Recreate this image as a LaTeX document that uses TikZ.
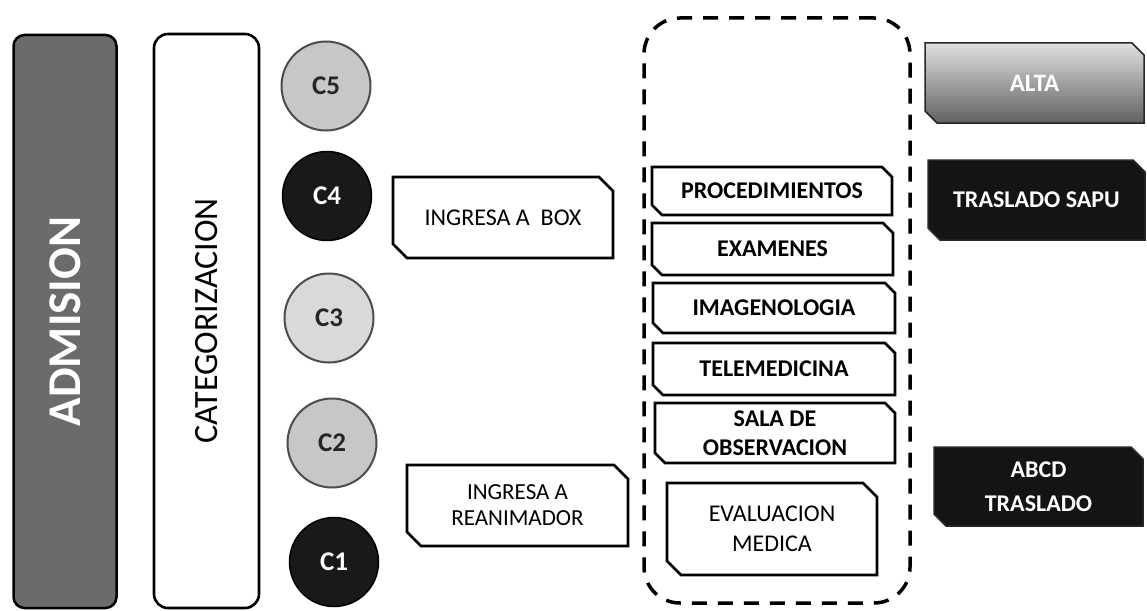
\documentclass[tikz,border=0pt]{standalone}
\usepackage{fontspec}
\setmainfont{Carlito}
\usetikzlibrary{shapes.misc}
\begin{document}
\begin{tikzpicture}[x=1pt,y=-1pt,
  snipbox/.style={chamfered rectangle,
    chamfered rectangle corners={north east,south west},
    chamfered rectangle sep=5pt,
    draw=black, line width=2.8pt, fill=white, align=center,
    inner sep=2pt, font=\fontsize{24}{29}\selectfont\bfseries},
  outcome/.style={snipbox, chamfered rectangle sep=6pt, draw=black!85,
    line width=1.5pt, text=white},
  catcircle/.style={circle, minimum size=#1, inner sep=0pt,
    font=\fontsize{27}{30}\selectfont\bfseries},
  lightcat/.style={catcircle=89pt, fill=black!22, draw=black!70, line width=2pt, text=black!85},
  darkcat/.style={catcircle=89pt, fill=black!90, draw=black, line width=1.5pt, text=white}
]
\useasboundingbox (0,0) rectangle (1147,610);

% admission bar and categorisation column
\node[rotate=90, minimum width=573pt, minimum height=103pt, rounded corners=11pt,
      fill=black!58, draw=black, line width=2.5pt, text=white,
      font=\fontsize{47}{50}\selectfont\bfseries] (adm) at (65,321.5) {ADMISION};
\node[rotate=90, minimum width=574pt, minimum height=105pt, rounded corners=14pt,
      draw=black, line width=2.6pt, fill=white,
      font=\fontsize{34}{38}\selectfont] (cat) at (206.5,321) {CATEGORIZACION};

% triage categories
\node[lightcat] (c5) at (326,86)  {C5};
\node[darkcat]  (c4) at (327,196) {C4};
\node[lightcat, fill=black!15] (c3) at (329,318) {C3};
\node[lightcat] (c2) at (332,443) {C2};
\node[darkcat]  (c1) at (334,562) {C1};

% entry points
\node[snipbox, chamfered rectangle sep=7pt, minimum width=220pt, minimum height=81pt,
      font=\fontsize{24}{29}\selectfont] (box) at (503,217.5) {INGRESA A\ \ BOX};
\node[snipbox, chamfered rectangle sep=7pt, minimum width=221pt, minimum height=81pt,
      font=\fontsize{23}{26}\selectfont] (rea) at (517.5,505.5) {INGRESA A\\REANIMADOR};

% care area
\node[draw=black, line width=3.5pt, dash pattern=on 15pt off 11pt,
      rounded corners=36pt, minimum width=266pt, minimum height=585pt] (area) at (777,310.5) {};
\node[snipbox, minimum width=240pt, minimum height=48pt] (proc) at (772,191) {PROCEDIMIENTOS};
\node[snipbox, minimum width=241pt, minimum height=52pt] (exam) at (772.5,249) {EXAMENES};
\node[snipbox, minimum width=242pt, minimum height=50pt] (imag) at (774,308) {IMAGENOLOGIA};
\node[snipbox, minimum width=242pt, minimum height=52pt] (tele) at (774,369) {TELEMEDICINA};
\node[snipbox, minimum width=240pt, minimum height=60pt,
      font=\fontsize{24}{29}\selectfont\bfseries] (sala) at (775,433) {SALA DE\\OBSERVACION};
\node[snipbox, chamfered rectangle sep=7pt, minimum width=210pt, minimum height=92pt,
      font=\fontsize{24}{30}\selectfont] (eval) at (772,529) {EVALUACION\\MEDICA};

% outcomes
\node[outcome, minimum width=219pt, minimum height=80pt, top color=black!12,
      bottom color=black!62, font=\fontsize{25}{29}\selectfont\bfseries] (alta) at (1034.5,83) {ALTA};
\node[outcome, minimum width=217pt, minimum height=80pt, fill=black!92] (sapu) at (1036.5,200) {TRASLADO SAPU};
\node[outcome, minimum width=209pt, minimum height=79pt, fill=black!92,
      font=\fontsize{24}{34}\selectfont\bfseries] (abcd) at (1038.5,486.5) {ABCD\\TRASLADO};
\end{tikzpicture}
\end{document}
